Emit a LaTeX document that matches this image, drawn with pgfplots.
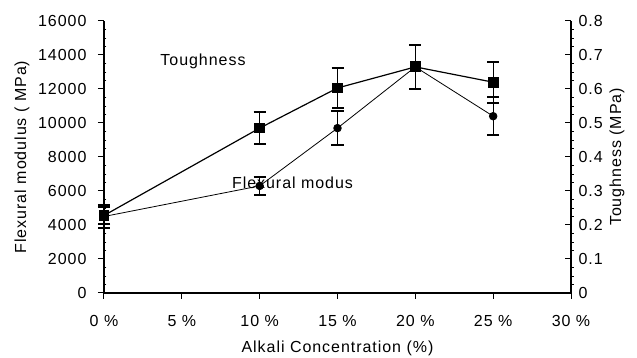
\documentclass[border=0pt]{standalone}
\usepackage{pgfplots}
\pgfplotsset{compat=1.18}
\usepackage{fontspec}
\setmainfont{Liberation Sans}[LetterSpace=6]
\newcommand{\fs}{\fontsize{16}{19}\selectfont}
\pgfplotstableread{
x y e
0 4500 700
10 6300 550
15 9700 1000
20 13300 1300
25 10400 1100
}\flex
\pgfplotstableread{
x y e
0 0.228 0.025
10 0.485 0.047
15 0.603 0.06
20 0.665 0.065
25 0.62 0.06
}\tough
\begin{document}
\begin{tikzpicture}
\useasboundingbox (-104pt,-65pt) rectangle (533pt,293pt);
\begin{axis}[
  at={(0,0)}, anchor=south west,
  scale only axis, width=467pt, height=272pt,
  xmin=0, xmax=30, ymin=0, ymax=16000,
  axis x line*=bottom, axis y line*=left,
  axis line style={line width=1.3pt},
  x axis line style={line width=1.8pt},
  xtick={0,5,10,15,20,25,30},
  xticklabels={0 \%,5 \%,10 \%,15 \%,20 \%,25 \%,30 \%},
  ytick={0,2000,...,16000},
  scaled y ticks=false,
  minor y tick num=3,
  tick align=outside,
  major tick length=6pt,
  minor tick length=-2.5pt,
  tick style={line width=1pt, black},
  minor tick style={line width=0.6pt},
  /pgf/number format/1000 sep={},
  /pgf/number format/assume math mode=true,
  tick label style={font=\fs},
  xticklabel style={yshift=-13pt},
  yticklabel style={xshift=-8pt},
  xlabel={Alkali Concentration (\%)},
  ylabel={Flexural modulus ( MPa)},
  label style={font=\fs},
  xlabel style={at={(axis description cs:0.5,0)}, anchor=center, yshift=-55pt},
  ylabel style={at={(axis description cs:0,0.5)}, anchor=center, rotate=0, yshift=82pt},
  clip=false,
]
\addplot[black, line width=0.8pt, mark=*, mark size=3.8pt,
  error bars/.cd, y dir=both, y explicit, error mark=|,
  error bar style={line width=1.2pt, solid},
  error mark options={line width=2pt, mark size=6pt, solid}]
  table[x=x, y=y, y error=e] {\flex};
\node[font=\fs, anchor=west] at (axis cs:3.4,13600) {Toughness};
\node[font=\fs, anchor=west] at (axis cs:8.0,6500) {Flexural modus};
\end{axis}
\begin{axis}[
  at={(0,0)}, anchor=south west,
  scale only axis, width=467pt, height=272pt,
  xmin=0, xmax=30, ymin=0, ymax=0.8,
  axis x line=none, axis y line*=right,
  axis line style={line width=1.3pt},
  ytick={0,0.1,...,0.8},
  yticklabels={0,0.1,0.2,0.3,0.4,0.5,0.6,0.7,0.8},
  minor y tick num=3,
  tick align=inside,
  major tick length=6pt,
  minor tick length=-2.5pt,
  tick style={line width=1pt, black},
  minor tick style={line width=0.6pt},
  tick label style={font=\fs},
  yticklabel style={xshift=4pt},
  ylabel={Toughness (MPa)},
  label style={font=\fs},
  ylabel style={at={(axis description cs:1,0.5)}, anchor=center, rotate=0, yshift=-46pt},
  clip=false,
]
\addplot[black, line width=1.2pt, mark=square*, mark size=4.8pt,
  error bars/.cd, y dir=both, y explicit, error mark=|,
  error bar style={line width=1.2pt, solid},
  error mark options={line width=2pt, mark size=6pt, solid}]
  table[x=x, y=y, y error=e] {\tough};
\end{axis}
\end{tikzpicture}
\end{document}
